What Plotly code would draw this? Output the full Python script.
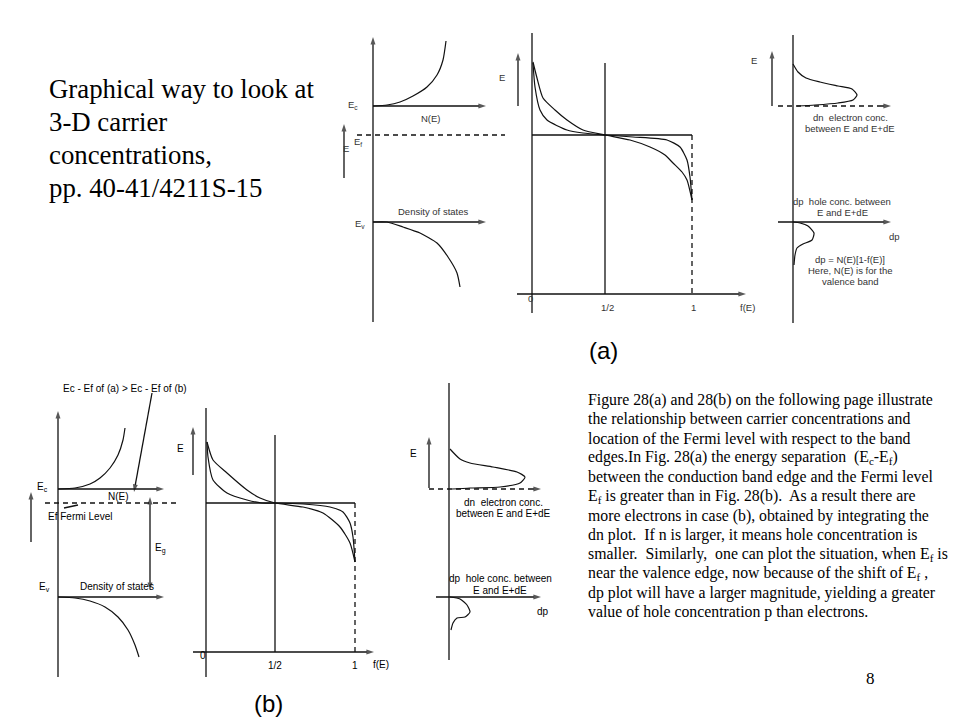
import plotly.graph_objects as go

# ---------------- data (page pixel units) ----------------
# Panel (a): density of states curves
a_cb_x = [373, 387, 400, 413, 427, 437, 443, 446]
a_cb_y = [106, 105, 102, 96, 87, 75, 60, 41]
a_vb_x = [373, 387, 403, 420, 437, 448, 457, 460]
a_vb_y = [222, 222, 227, 233, 243, 257, 273, 287]
# Panel (a): Fermi function curves (broad = higher T, sharp = lower T)
a_f_broad_x = [533, 537, 543, 555, 567, 583, 605, 630, 650, 665, 673, 682, 687, 692]
a_f_broad_y = [62, 78, 98, 110, 120, 130, 135, 140, 147, 155, 163, 172, 180, 200]
a_f_sharp_x = [533, 535, 540, 547, 567, 583, 605, 633, 667, 680, 687, 690, 692]
a_f_sharp_y = [63, 87, 110, 120, 130, 133, 135, 137, 140, 147, 160, 177, 200]
# Panel (a): dn and dp curves
a_dn_x = [793, 798, 806, 820, 838, 852, 857, 853, 838, 815, 797]
a_dn_y = [64, 72, 78, 82, 86, 89, 95, 100, 103, 105, 106]
a_dp_x = [793, 800, 808, 814, 812, 803, 797, 795, 794]
a_dp_y = [222, 223, 226, 233, 240, 244, 248, 255, 265]

# Panel (b): density of states curves
b_cb_x = [58, 75, 90, 100, 110, 118, 123, 125]
b_cb_y = [489, 488, 484, 478, 468, 455, 440, 428]
b_vb_x = [58, 75, 90, 105, 118, 128, 135, 139]
b_vb_y = [597, 598, 601, 607, 617, 630, 645, 657]
# Panel (b): Fermi function curves
b_f_broad_x = [207, 213, 227, 247, 260, 275, 303, 323, 340, 350, 355]
b_f_broad_y = [442, 460, 473, 490, 498, 503, 507, 513, 527, 543, 562]
b_f_sharp_x = [207, 208, 213, 227, 247, 262, 275, 303, 330, 343, 350, 353, 355]
b_f_sharp_y = [442, 457, 480, 493, 500, 503, 503, 504, 507, 512, 523, 537, 562]
# Panel (b): dn and dp curves
b_dn_x = [450, 460, 470, 493, 517, 525, 520, 500, 470, 452]
b_dn_y = [449, 459, 463, 467, 472, 477, 483, 487, 488, 489]
b_dp_x = [450, 460, 467, 470, 465, 457, 453, 451]
b_dp_y = [597, 599, 605, 612, 617, 618, 623, 630]

# Plain straight lines: x0, y0, x1, y1
solid_lines = [
    (532, 33, 532, 313), (605, 63, 605, 294), (532, 135, 692, 135),
    (793, 35, 793, 323),
    (206, 408, 206, 677), (275, 435, 275, 652), (206, 503, 355, 503),
    (449, 383, 449, 660), (64, 508, 78, 505),
]
dashed_lines = [
    (357, 135, 505, 135), (692, 135, 692, 294), (778, 106, 886, 106),
    (45, 503, 180, 503), (355, 503, 355, 652), (429, 489, 536, 489),
]
# Arrows: tail x, tail y, head x, head y
arrows = [
    (373, 322, 373, 37), (373, 106, 486, 106), (373, 222, 486, 222), (344, 178, 344, 124),
    (517, 294, 746, 294), (518, 106, 518, 53),
    (772, 106, 772, 51), (882, 106, 891, 106), (778, 222, 891, 222),
    (58, 677, 58, 411), (58, 489, 164, 489), (58, 597, 164, 597), (31, 542, 31, 492),
    (152, 393, 134, 492),
    (193, 652, 374, 652), (193, 475, 193, 427),
    (429, 488, 429, 437), (533, 489, 541, 489), (436, 597, 541, 597),
    (150, 543, 150, 497), (150, 543, 150, 590),
]

# Labels of panel (a)
a_labels = ["N(E)", "Density of states", "E<sub>c</sub>", "E<sub>f</sub>", "E", "E<sub>v</sub>",
            "E", "0", "1/2", "1", "f(E)", "E",
            "dn  electron conc.", "between E and E+dE", "dp  hole conc. between", "E and E+dE",
            "dp", "dp = N(E)[1-f(E)]", "Here, N(E) is for the", "valence band"]
a_label_x = [431, 433, 353, 358, 346, 360, 502, 530, 607, 693, 747, 754,
             850, 850, 842, 842, 894, 850, 850, 850]
a_label_y = [118, 211, 105, 142, 148, 224, 77, 298, 307, 307, 307, 60,
             117, 128, 201, 212, 236, 259, 270, 281]
# Labels of panel (b)
b_labels = ["Ec - Ef of (a) > Ec - Ef of (b)", "E<sub>c</sub>", "N(E)", "Ef Fermi Level",
            "E<sub>g</sub>", "E<sub>v</sub>", "Density of states",
            "E", "0", "1/2", "1", "f(E)", "E",
            "dn  electron conc.", "between E and E+dE", "dp  hole conc. between", "E and E+dE", "dp"]
b_label_x = [125, 42, 118, 80, 160, 44, 117, 180, 203, 275, 355, 381, 413,
             503, 503, 500, 500, 543]
b_label_y = [388, 487, 496, 516, 548, 587, 586, 448, 655, 665, 665, 664, 453,
             502, 513, 578, 590, 611]

title_lines = ["Graphical way to look at", "3-D carrier", "concentrations,", "pp. 40-41/4211S-15"]
para_lines = [
    "Figure 28(a) and 28(b) on the following page illustrate",
    "the relationship between carrier concentrations and",
    "location of the Fermi level with respect to the band",
    "edges.In Fig. 28(a) the energy separation  (E<sub>c</sub>-E<sub>f</sub>)",
    "between the conduction band edge and the Fermi level",
    "E<sub>f</sub> is greater than in Fig. 28(b).  As a result there are",
    "more electrons in case (b), obtained by integrating the",
    "dn plot.  If n is larger, it means hole concentration is",
    "smaller.  Similarly,  one can plot the situation, when E<sub>f</sub> is",
    "near the valence edge, now because of the shift of E<sub>f</sub> ,",
    "dp plot will have a larger magnitude, yielding a greater",
    "value of hole concentration p than electrons.",
]

# ---------------- figure ----------------
fig = go.Figure()
INK = "#111111"

def add_curve(xs, ys, color=INK, width=1.2):
    fig.add_trace(go.Scatter(x=xs, y=ys, mode="lines", hoverinfo="skip", showlegend=False,
                             line=dict(color=color, width=width, shape="spline", smoothing=0.6)))

for xs, ys in [(a_cb_x, a_cb_y), (a_vb_x, a_vb_y), (a_f_broad_x, a_f_broad_y),
               (a_f_sharp_x, a_f_sharp_y), (a_dn_x, a_dn_y), (a_dp_x, a_dp_y),
               (b_cb_x, b_cb_y), (b_vb_x, b_vb_y), (b_f_broad_x, b_f_broad_y),
               (b_f_sharp_x, b_f_sharp_y), (b_dn_x, b_dn_y), (b_dp_x, b_dp_y)]:
    add_curve(xs, ys)

for x0, y0, x1, y1 in solid_lines:
    fig.add_trace(go.Scatter(x=[x0, x1], y=[y0, y1], mode="lines", hoverinfo="skip",
                             showlegend=False, line=dict(color=INK, width=1.3)))
for x0, y0, x1, y1 in dashed_lines:
    fig.add_trace(go.Scatter(x=[x0, x1], y=[y0, y1], mode="lines", hoverinfo="skip",
                             showlegend=False, line=dict(color=INK, width=1.3, dash="5px,4px")))

for tx, ty, hx, hy in arrows:
    fig.add_trace(go.Scatter(x=[tx, hx], y=[ty, hy], mode="lines+markers", hoverinfo="skip",
                             showlegend=False, line=dict(color=INK, width=1.3),
                             marker=dict(symbol="arrow", size=[0, 8], angleref="previous",
                                         color=INK, line=dict(width=0))))

SANS = "Liberation Sans, Arial, sans-serif"
SERIF = "Liberation Serif, Times New Roman, serif"

for t, x, y in zip(a_labels, a_label_x, a_label_y):
    fig.add_annotation(x=x, y=y, text=t, showarrow=False, xanchor="center", yanchor="middle",
                       font=dict(family=SANS, size=9.5, color="#333333"))
for t, x, y in zip(b_labels, b_label_x, b_label_y):
    fig.add_annotation(x=x, y=y, text=t, showarrow=False, xanchor="center", yanchor="middle",
                       font=dict(family=SANS, size=10, color="#000000"))

for i, t in enumerate(title_lines):
    fig.add_annotation(x=47, y=89 + 33 * i, text=t, showarrow=False, xanchor="left",
                       yanchor="middle", font=dict(family=SERIF, size=26.8, color="#000000"))

for i, t in enumerate(para_lines):
    fig.add_annotation(x=586, y=400 + 19.3 * i, text=t, showarrow=False, xanchor="left",
                       yanchor="middle", font=dict(family=SERIF, size=15.8, color="#000000"))

fig.add_annotation(x=603, y=350, text="(a)", showarrow=False,
                   font=dict(family=SANS, size=24, color="#000000"))
fig.add_annotation(x=268, y=703, text="(b)", showarrow=False,
                   font=dict(family=SANS, size=24, color="#000000"))
fig.add_annotation(x=870, y=678, text="8", showarrow=False,
                   font=dict(family=SERIF, size=17, color="#000000"))

# The page body has an 8 px margin, so the figure is offset and the ranges compensate.
fig.update_layout(
    width=952, height=712, margin=dict(l=0, r=0, t=0, b=0),
    paper_bgcolor="white", plot_bgcolor="white",
    xaxis=dict(range=[8, 960], visible=False, fixedrange=True),
    yaxis=dict(range=[720, 8], visible=False, fixedrange=True),
)

fig.write_html("out.html")
